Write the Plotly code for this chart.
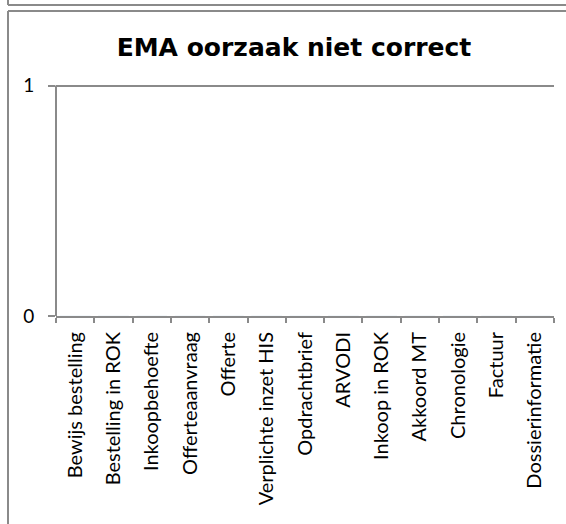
import plotly.graph_objects as go

# ========== DATA ==========
categories = ["Bewijs bestelling", "Bestelling in ROK", "Inkoopbehoefte",
              "Offerteaanvraag", "Offerte", "Verplichte inzet HIS",
              "Opdrachtbrief", "ARVODI", "Inkoop in ROK", "Akkoord MT",
              "Chronologie", "Factuur", "Dossierinformatie"]
counts = [0, 0, 0, 0, 0, 0, 0, 0, 0, 0, 0, 0, 0]
y_ticks = [0, 1]

W, H = 566, 524
L, R, T, B = 56, 12, 81, 208
grey = "#8a8a8a"

fig = go.Figure()
fig.add_trace(go.Bar(x=categories, y=counts, marker_color="#4f81bd"))

fig.update_layout(
    width=W, height=H,
    margin=dict(l=L, r=R, t=T, b=B, pad=0),
    paper_bgcolor="white", plot_bgcolor="white",
    showlegend=False,
    title=dict(text="<b>EMA oorzaak niet correct</b>", x=294 / W, xref="container",
               xanchor="center", y=1 - 47 / H, yref="container", yanchor="middle",
               font=dict(family="DejaVu Sans", size=25, color="black")),
    font=dict(family="Lato", size=20, color="black"),
)

fig.update_xaxes(
    type="category", tickangle=-90, tickson="boundaries",
    showline=True, linecolor=grey, linewidth=2,
    ticks="outside", ticklen=5, tickcolor=grey, tickwidth=2,
    showgrid=False, ticklabelstandoff=6,
    tickfont=dict(family="Lato", size=20, color="black"),
)
# a little headroom above 1 so the gridline at 1 is drawn
fig.update_yaxes(
    range=[0, 1.02], tickvals=y_ticks, ticktext=[str(v) for v in y_ticks],
    showline=False,
    ticks="outside", ticklen=7, tickcolor=grey, tickwidth=2,
    showgrid=True, gridcolor=grey, gridwidth=2, zeroline=False,
    ticklabelstandoff=10,
    tickfont=dict(family="Lato", size=19, color="black"),
)
# y axis line only from 0 up to the top gridline
fig.add_shape(type="line", xref="paper", yref="y", x0=0, x1=0,
              y0=y_ticks[0], y1=y_ticks[-1], line=dict(color=grey, width=2))

# chart frame, drawn outside the plot area (pixels -> paper units)
def px_x(v):
    return (v - L) / (W - L - R)

def px_y(v):
    return 1 - (v - T) / (H - T - B)

frame = dict(color=grey, width=2)
fig.add_shape(type="line", xref="paper", yref="paper",
              x0=px_x(8), x1=px_x(W + 5), y0=px_y(5), y1=px_y(5), line=frame)
fig.add_shape(type="line", xref="paper", yref="paper",
              x0=px_x(8), x1=px_x(8), y0=px_y(-5), y1=px_y(5), line=frame)
fig.add_shape(type="line", xref="paper", yref="paper",
              x0=px_x(8), x1=px_x(W + 5), y0=px_y(11), y1=px_y(11), line=frame)
fig.add_shape(type="line", xref="paper", yref="paper",
              x0=px_x(8), x1=px_x(8), y0=px_y(11), y1=px_y(H + 5), line=frame)

# drop the default 8px body margin so figure pixels line up with the page
fig.write_html("out.html", config={"displayModeBar": False},
               post_script="document.body.style.margin='0';")
